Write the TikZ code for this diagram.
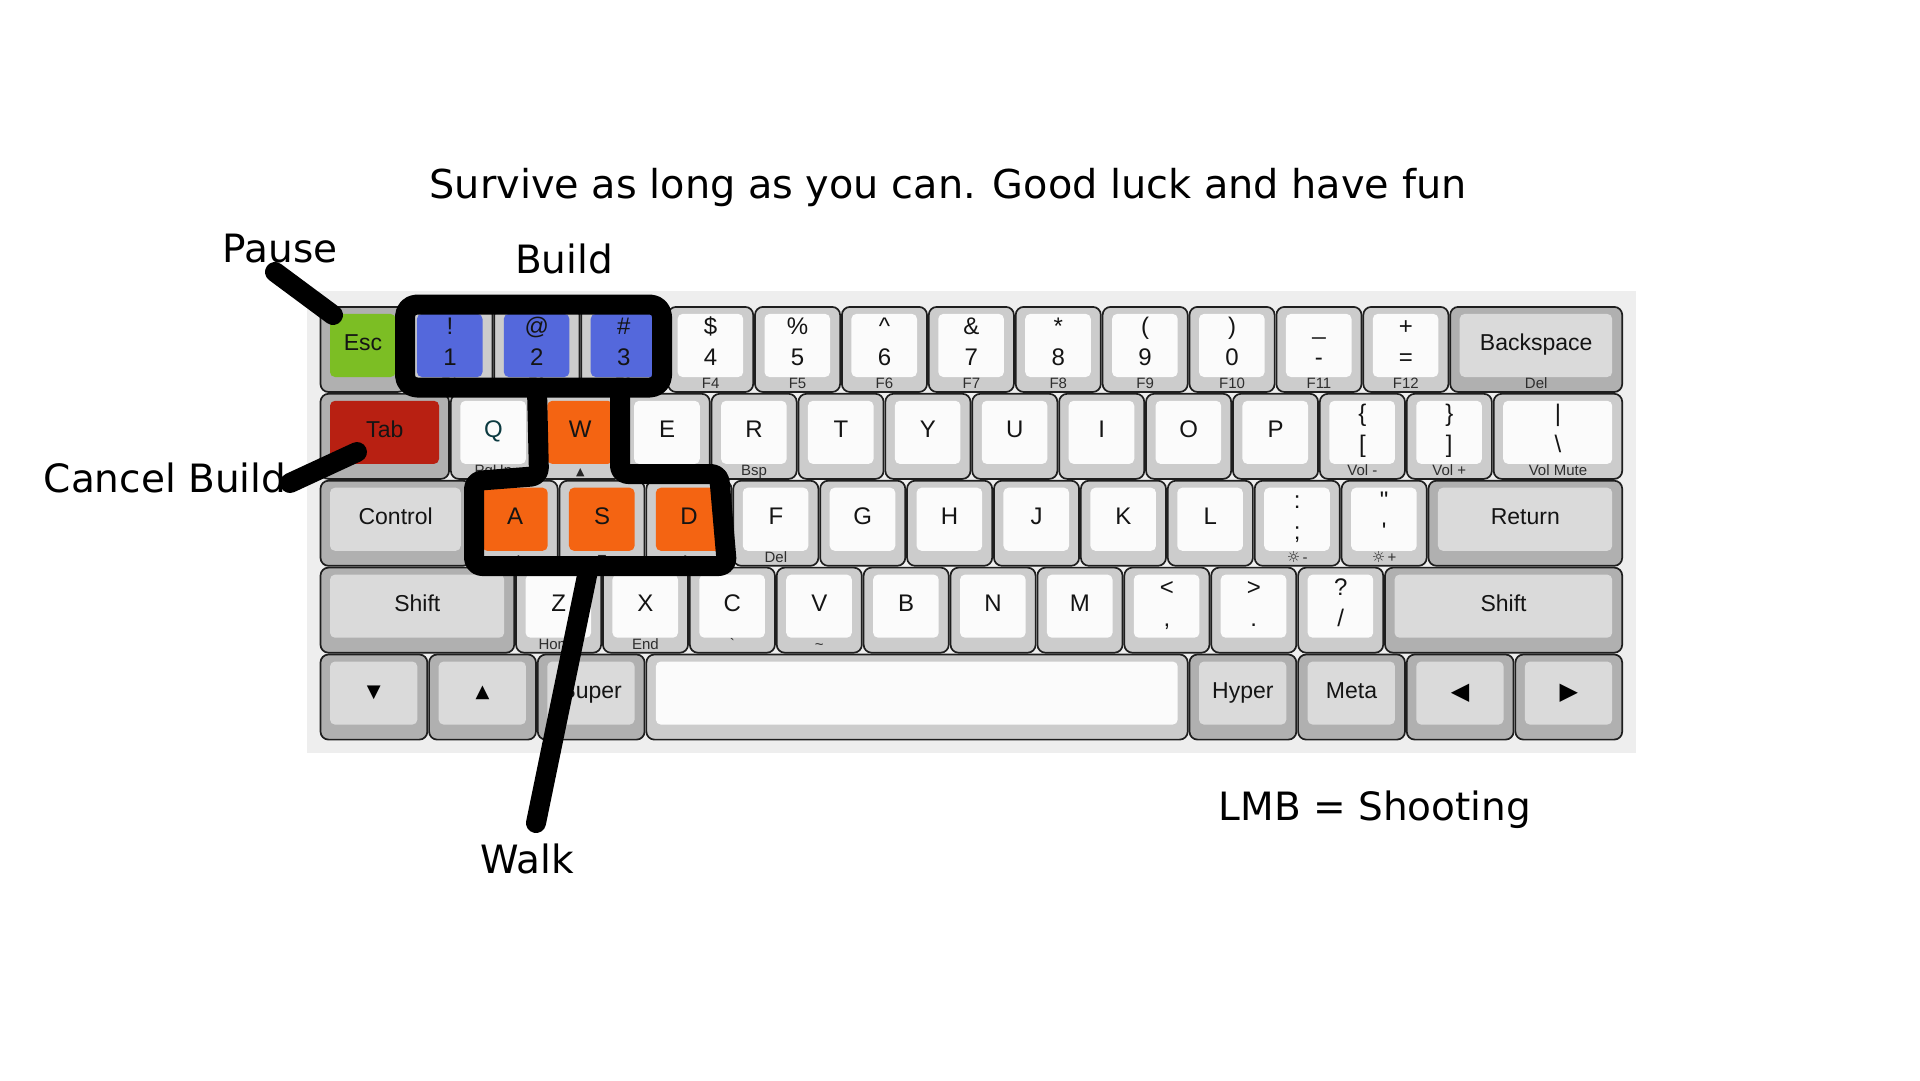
\documentclass[tikz,border=0pt]{standalone}
\usepackage{fontspec}
\setmainfont{DejaVu Sans}
\newfontfamily\kbf{Liberation Sans}
\newfontfamily\djv{DejaVu Sans}
\usetikzlibrary{calc}

\definecolor{panel}{RGB}{238,238,238}
\definecolor{edge}{RGB}{30,30,30}
\definecolor{lout}{RGB}{204,204,204}
\definecolor{lin}{RGB}{251,251,251}
\definecolor{mout}{RGB}{176,176,176}
\definecolor{modin}{RGB}{218,218,218}
\definecolor{escg}{RGB}{124,190,36}
\definecolor{bblue}{RGB}{84,104,220}
\definecolor{tabred}{RGB}{184,32,18}
\definecolor{wasd}{RGB}{244,100,18}
\definecolor{qteal}{RGB}{12,58,64}

% key: #1 name, #2 start column (units), #3 row, #4 width (units), #5 outer fill, #6 cap fill
\newcommand{\kb}[6]{%
  \pgfmathsetmacro\xa{319.6+#2*86.9+0.9}%
  \pgfmathsetmacro\xb{319.6+(#2+#4)*86.9-0.9}%
  \pgfmathsetmacro\ya{306+#3*86.9+0.9}%
  \pgfmathsetmacro\yb{306+(#3+1)*86.9-0.9}%
  \draw[keybody,fill=#5] (\xa,\ya) rectangle (\xb,\yb);
  \fill[#6,rounded corners=5] (\xa+9.5,\ya+7) rectangle (\xb-10,\yb-15);
  \coordinate (#1) at ({(\xa+\xb)/2},\ya);
}
\newcommand{\lone}[3][kl]{\node[#1] (#2m) at ($(#2)+(0,44)$) {#3};}
\newcommand{\ltwo}[3]{\node[kl] (#1t) at ($(#1)+(0,27.5)$) {#2};\node[kl] (#1b) at ($(#1)+(0,58.5)$) {#3};}
\newcommand{\lsub}[3][ks]{\node[#1] (#2s) at ($(#2)+(0,81.5)$) {#3};}

\begin{document}
\begin{tikzpicture}[x=1pt,y=-1pt,
  keybody/.style={draw=edge,line width=1.7,rounded corners=8},
  kl/.style={font=\kbf\fontsize{24}{24}\selectfont, inner sep=0, anchor=base, text=black!92},
  km/.style={font=\kbf\fontsize{23}{23}\selectfont, inner sep=0, anchor=base, text=black!92},
  ks/.style={font=\kbf\fontsize{15}{15}\selectfont, inner sep=0, anchor=base, text=black!82},
  ksa/.style={font=\djv\fontsize{11}{11}\selectfont, inner sep=0, anchor=base, text=black!85},
  ka/.style={font=\djv\fontsize{18}{18}\selectfont, inner sep=0, anchor=base, text=black},
  kh/.style={font=\djv\fontsize{24}{24}\selectfont, inner sep=0, anchor=base, text=black},
  ann/.style={font=\fontsize{39}{39}\selectfont, inner sep=0, anchor=base},
  ink/.style={draw=black, line width=20, line cap=round, line join=round}
]
\fill[white] (0,0) rectangle (1920,1080);
\useasboundingbox (0,0) rectangle (1920,1080);

% keyboard panel
\fill[panel] (307,291) rectangle (1636,753);

% ---- row 0
\kb{kesc}{0}{0}{1}{mout}{escg}\lone[km]{kesc}{Esc}
\kb{k1}{1}{0}{1}{lout}{bblue}\ltwo{k1}{!}{1}\lsub{k1}{F1}
\kb{k2}{2}{0}{1}{lout}{bblue}\ltwo{k2}{@}{2}\lsub{k2}{F2}
\kb{k3}{3}{0}{1}{lout}{bblue}\ltwo{k3}{\#}{3}\lsub{k3}{F3}
\kb{k4}{4}{0}{1}{lout}{lin}\ltwo{k4}{\$}{4}\lsub{k4}{F4}
\kb{k5}{5}{0}{1}{lout}{lin}\ltwo{k5}{\%}{5}\lsub{k5}{F5}
\kb{k6}{6}{0}{1}{lout}{lin}\ltwo{k6}{\char"5E}{6}\lsub{k6}{F6}
\kb{k7}{7}{0}{1}{lout}{lin}\ltwo{k7}{\&}{7}\lsub{k7}{F7}
\kb{k8}{8}{0}{1}{lout}{lin}\ltwo{k8}{*}{8}\lsub{k8}{F8}
\kb{k9}{9}{0}{1}{lout}{lin}\ltwo{k9}{(}{9}\lsub{k9}{F9}
\kb{k0}{10}{0}{1}{lout}{lin}\ltwo{k0}{)}{0}\lsub{k0}{F10}
\kb{kmi}{11}{0}{1}{lout}{lin}\ltwo{kmi}{\_}{-}\lsub{kmi}{F11}
\kb{keq}{12}{0}{1}{lout}{lin}\ltwo{keq}{+}{=}\lsub{keq}{F12}
\kb{kbs}{13}{0}{2}{mout}{modin}\lone[km]{kbs}{Backspace}\lsub{kbs}{Del}

% ---- row 1
\kb{ktab}{0}{1}{1.5}{mout}{tabred}\lone[km]{ktab}{Tab}
\kb{kq}{1.5}{1}{1}{lout}{lin}\lone[kl,text=qteal]{kq}{Q}\lsub{kq}{PgUp}
\kb{kw}{2.5}{1}{1}{lout}{wasd}\lone{kw}{W}\lsub[ksa]{kw}{▲}
\kb{ke}{3.5}{1}{1}{lout}{lin}\lone{ke}{E}\lsub{ke}{PgDn}
\kb{kr}{4.5}{1}{1}{lout}{lin}\lone{kr}{R}\lsub{kr}{Bsp}
\kb{kt}{5.5}{1}{1}{lout}{lin}\lone{kt}{T}
\kb{ky}{6.5}{1}{1}{lout}{lin}\lone{ky}{Y}
\kb{ku}{7.5}{1}{1}{lout}{lin}\lone{ku}{U}
\kb{ki}{8.5}{1}{1}{lout}{lin}\lone{ki}{I}
\kb{ko}{9.5}{1}{1}{lout}{lin}\lone{ko}{O}
\kb{kp}{10.5}{1}{1}{lout}{lin}\lone{kp}{P}
\kb{klb}{11.5}{1}{1}{lout}{lin}\ltwo{klb}{\{}{[}\lsub{klb}{Vol -}
\kb{krb}{12.5}{1}{1}{lout}{lin}\ltwo{krb}{\}}{]}\lsub{krb}{Vol +}
\kb{kbsl}{13.5}{1}{1.5}{lout}{lin}\ltwo{kbsl}{|}{\char"5C}\lsub{kbsl}{Vol Mute}

% ---- row 2
\kb{kctl}{0}{2}{1.75}{mout}{modin}\lone[km]{kctl}{Control}
\kb{ka}{1.75}{2}{1}{lout}{wasd}\lone{ka}{A}\lsub[ksa]{ka}{◀}
\kb{ks}{2.75}{2}{1}{lout}{wasd}\lone{ks}{S}\lsub[ksa]{ks}{▼}
\kb{kd}{3.75}{2}{1}{lout}{wasd}\lone{kd}{D}\lsub[ksa]{kd}{▶}
\kb{kf}{4.75}{2}{1}{lout}{lin}\lone{kf}{F}\lsub{kf}{Del}
\kb{kg}{5.75}{2}{1}{lout}{lin}\lone{kg}{G}
\kb{kh}{6.75}{2}{1}{lout}{lin}\lone{kh}{H}
\kb{kj}{7.75}{2}{1}{lout}{lin}\lone{kj}{J}
\kb{kk}{8.75}{2}{1}{lout}{lin}\lone{kk}{K}
\kb{kl}{9.75}{2}{1}{lout}{lin}\lone{kl}{L}
\kb{ksc}{10.75}{2}{1}{lout}{lin}\ltwo{ksc}{:}{;}\lsub{ksc}{{\djv ☼}\,-}
\kb{kqt}{11.75}{2}{1}{lout}{lin}\ltwo{kqt}{"}{\char"27}\lsub{kqt}{{\djv ☼}\,+}
\kb{kret}{12.75}{2}{2.25}{mout}{modin}\lone[km]{kret}{Return}

% ---- row 3
\kb{klsh}{0}{3}{2.25}{mout}{modin}\lone[km]{klsh}{Shift}
\kb{kz}{2.25}{3}{1}{lout}{lin}\lone{kz}{Z}\lsub{kz}{Home}
\kb{kx}{3.25}{3}{1}{lout}{lin}\lone{kx}{X}\lsub{kx}{End}
\kb{kc}{4.25}{3}{1}{lout}{lin}\lone{kc}{C}\lsub{kc}{\char"60}
\kb{kv}{5.25}{3}{1}{lout}{lin}\lone{kv}{V}\lsub{kv}{\char"7E}
\kb{kb}{6.25}{3}{1}{lout}{lin}\lone{kb}{B}
\kb{kn}{7.25}{3}{1}{lout}{lin}\lone{kn}{N}
\kb{km}{8.25}{3}{1}{lout}{lin}\lone{km}{M}
\kb{kcm}{9.25}{3}{1}{lout}{lin}\ltwo{kcm}{<}{,}
\kb{kdt}{10.25}{3}{1}{lout}{lin}\ltwo{kdt}{>}{.}
\kb{ksl}{11.25}{3}{1}{lout}{lin}\ltwo{ksl}{?}{/}
\kb{krsh}{12.25}{3}{2.75}{mout}{modin}\lone[km]{krsh}{Shift}

% ---- row 4
\kb{kdn}{0}{4}{1.25}{mout}{modin}\node[ka] (kdnm) at ($(kdn)+(0,43)$) {▼};
\kb{kup}{1.25}{4}{1.25}{mout}{modin}\node[ka] (kupm) at ($(kup)+(0,43)$) {▲};
\kb{ksup}{2.5}{4}{1.25}{mout}{modin}\lone[km]{ksup}{Super}
\kb{kspc}{3.75}{4}{6.25}{lout}{lin}
\kb{khyp}{10}{4}{1.25}{mout}{modin}\lone[km]{khyp}{Hyper}
\kb{kmeta}{11.25}{4}{1.25}{mout}{modin}\lone[km]{kmeta}{Meta}
\kb{klft}{12.5}{4}{1.25}{mout}{modin}\node[kh] (klftm) at ($(klft)+(0,44.5)$) {◀};
\kb{krgt}{13.75}{4}{1.25}{mout}{modin}\node[kh] (krgtm) at ($(krgt)+(0,44.5)$) {▶};

% ---- annotations
\node[ann,font=\fontsize{39.8}{40}\selectfont] (title) at (948,198) {Survive as long as you can. Good luck and have fun};
\node[ann] (pause) at (280,262) {Pause};
\node[ann] (build) at (564,273) {Build};
\node[ann] (cancel) at (165,492) {Cancel Build};
\node[ann] (walk) at (527,873) {Walk};
\node[ann] (lmb) at (1375,820) {LMB = Shooting};

% build box
\draw[ink, rounded corners=12] (405,304.5) rectangle (662,387.5);
% walk outline
\draw[ink, rounded corners=8] (537,389) -- (539,476) -- (474,481) -- (474,566)
  -- (727,566) -- (719,474) -- (620,474) -- (620,389);

% pointer lines
\coordinate (pauseA) at (275,272);
\coordinate (pauseB) at (333,315);
\coordinate (cancA) at (290,483);
\coordinate (cancB) at (357,452);
\coordinate (walkA) at (589,566);
\coordinate (walkB) at (536,823);
\draw[ink] (pauseA) -- (pauseB);
\draw[ink] (cancA) -- (cancB);
\draw[ink] (walkA) -- (walkB);
\end{tikzpicture}
\end{document}
